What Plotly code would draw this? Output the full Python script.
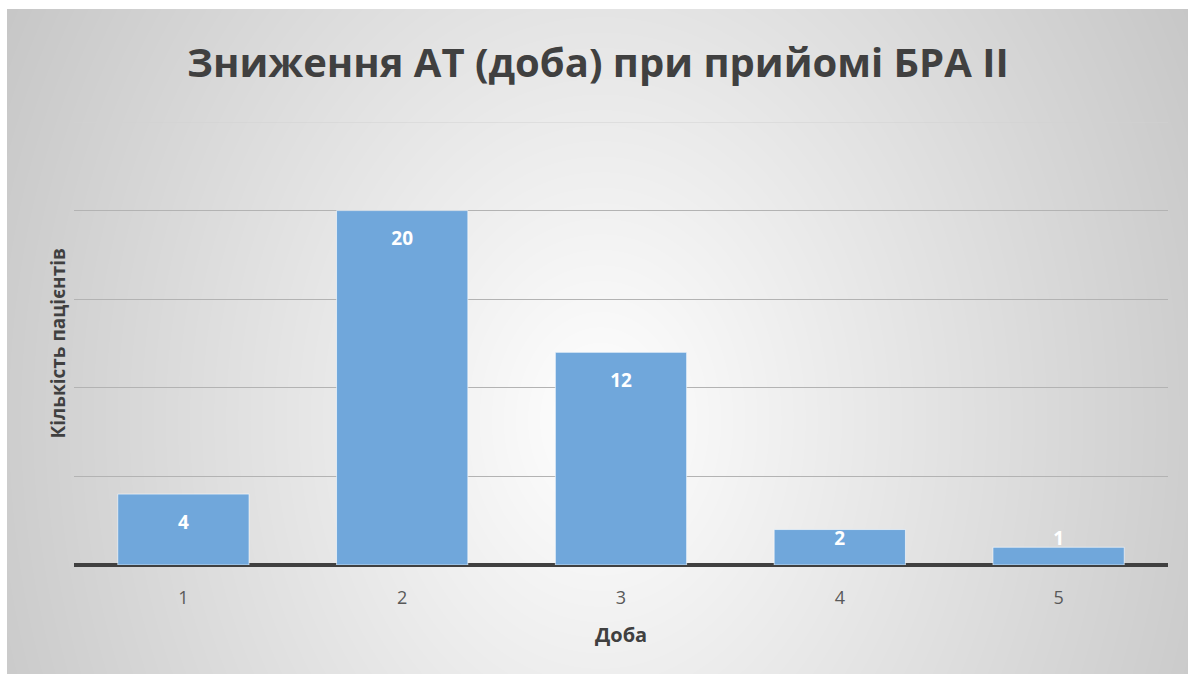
import base64
import struct
import zlib

import numpy as np
import plotly.graph_objects as go

# Data
days = ["1", "2", "3", "4", "5"]
patients = [4, 20, 12, 2, 1]
y_ticks = [0, 5, 10, 15, 20, 25]

W, H = 1188, 674
FONT = "Open Sans"
TEXT_DARK = "#404040"
BAR_COLOR = "#70a7db"
Y_MAX = 25


def gray_png(arr):
    """Encode a 2-D uint8 array as a grayscale PNG data URI."""
    h, w = arr.shape
    raw = b"".join(b"\x00" + arr[i].tobytes() for i in range(h))

    def chunk(tag, data):
        c = struct.pack(">I", len(data)) + tag + data
        return c + struct.pack(">I", zlib.crc32(tag + data) & 0xFFFFFFFF)

    png = b"\x89PNG\r\n\x1a\n"
    png += chunk(b"IHDR", struct.pack(">IIBBBBB", w, h, 8, 0, 0, 0, 0))
    png += chunk(b"IDAT", zlib.compress(raw, 9))
    png += chunk(b"IEND", b"")
    return "data:image/png;base64," + base64.b64encode(png).decode()


# Radial background: light centre fading to grey towards the edges
box_x0, box_y0 = 7, 9
bw, bh = W - box_x0, H - box_y0
yy, xx = np.mgrid[0:bh, 0:bw].astype(float)
cx, cy = 600 - box_x0, 420 - box_y0
t = np.sqrt(((xx - cx) / 700.0) ** 2 + ((yy - cy) / 900.0) ** 2)
bg = np.clip(255 - 58 * np.clip(t, 0, 1), 0, 255).astype(np.uint8)
bg_uri = gray_png(bg)

# Plot area in pixels
px0, px1 = 74, 1168
py_top, py_bot = 122, 565

fig = go.Figure()

fig.add_trace(
    go.Bar(
        x=days,
        y=patients,
        width=0.6,
        marker=dict(color=BAR_COLOR, line=dict(color="rgba(255,255,255,0.6)", width=1)),
        hoverinfo="x+y",
    )
)

# Value labels near the top end of each bar
label_y = [max(v - 1.7, 1.4) for v in patients]
fig.add_trace(
    go.Scatter(
        x=days,
        y=label_y,
        mode="text",
        text=[str(v) for v in patients],
        textfont=dict(family=FONT, size=19, color="white", weight="bold"),
        hoverinfo="skip",
    )
)

fig.update_layout(
    width=W,
    height=H,
    margin=dict(l=0, r=0, t=0, b=0),
    paper_bgcolor="white",
    plot_bgcolor="rgba(0,0,0,0)",
    showlegend=False,
    bargap=0.4,
    images=[
        dict(
            source=bg_uri,
            xref="paper",
            yref="paper",
            x=box_x0 / W,
            y=1 - box_y0 / H,
            sizex=bw / W,
            sizey=bh / H,
            xanchor="left",
            yanchor="top",
            sizing="stretch",
            layer="below",
        )
    ],
    xaxis=dict(
        domain=[px0 / W, px1 / W],
        type="category",
        showgrid=False,
        showline=False,
        zeroline=False,
        ticks="",
        tickfont=dict(family=FONT, size=18, color="#595959"),
        ticklabelstandoff=20,
    ),
    yaxis=dict(
        domain=[1 - py_bot / H, 1 - py_top / H],
        range=[0, Y_MAX],
        tickvals=y_ticks[:-1],
        showticklabels=False,
        showgrid=True,
        gridcolor="#b3b3b3",
        gridwidth=1,
        zeroline=True,
        zerolinecolor="#404040",
        zerolinewidth=4,
        showline=False,
    ),
    annotations=[
        dict(
            text="<b>Зниження АТ (доба) при прийомі БРА II</b>",
            xref="paper", yref="paper",
            x=(box_x0 + W) / 2 / W, y=1 - 62 / H,
            showarrow=False,
            font=dict(family=FONT, size=40, color=TEXT_DARK),
            xanchor="center", yanchor="middle",
        ),
        dict(
            text="<b>Доба</b>",
            xref="paper", yref="paper",
            x=(px0 + px1) / 2 / W, y=1 - 634 / H,
            showarrow=False,
            font=dict(family=FONT, size=20, color=TEXT_DARK),
            xanchor="center", yanchor="middle",
        ),
        dict(
            text="<b>Кількість пацієнтів</b>",
            xref="paper", yref="paper",
            x=57 / W, y=1 - (py_top + py_bot) / 2 / H,
            showarrow=False,
            textangle=-90,
            font=dict(family=FONT, size=19, color=TEXT_DARK),
            xanchor="center", yanchor="middle",
        ),
    ],
    shapes=[
        # faint top gridline at the axis maximum
        dict(
            type="line", xref="paper", yref="y",
            x0=px0 / W, x1=px1 / W, y0=Y_MAX, y1=Y_MAX,
            line=dict(color="#d2d2d2", width=1),
            layer="below",
        )
    ],
)

fig.write_html("out.html")
